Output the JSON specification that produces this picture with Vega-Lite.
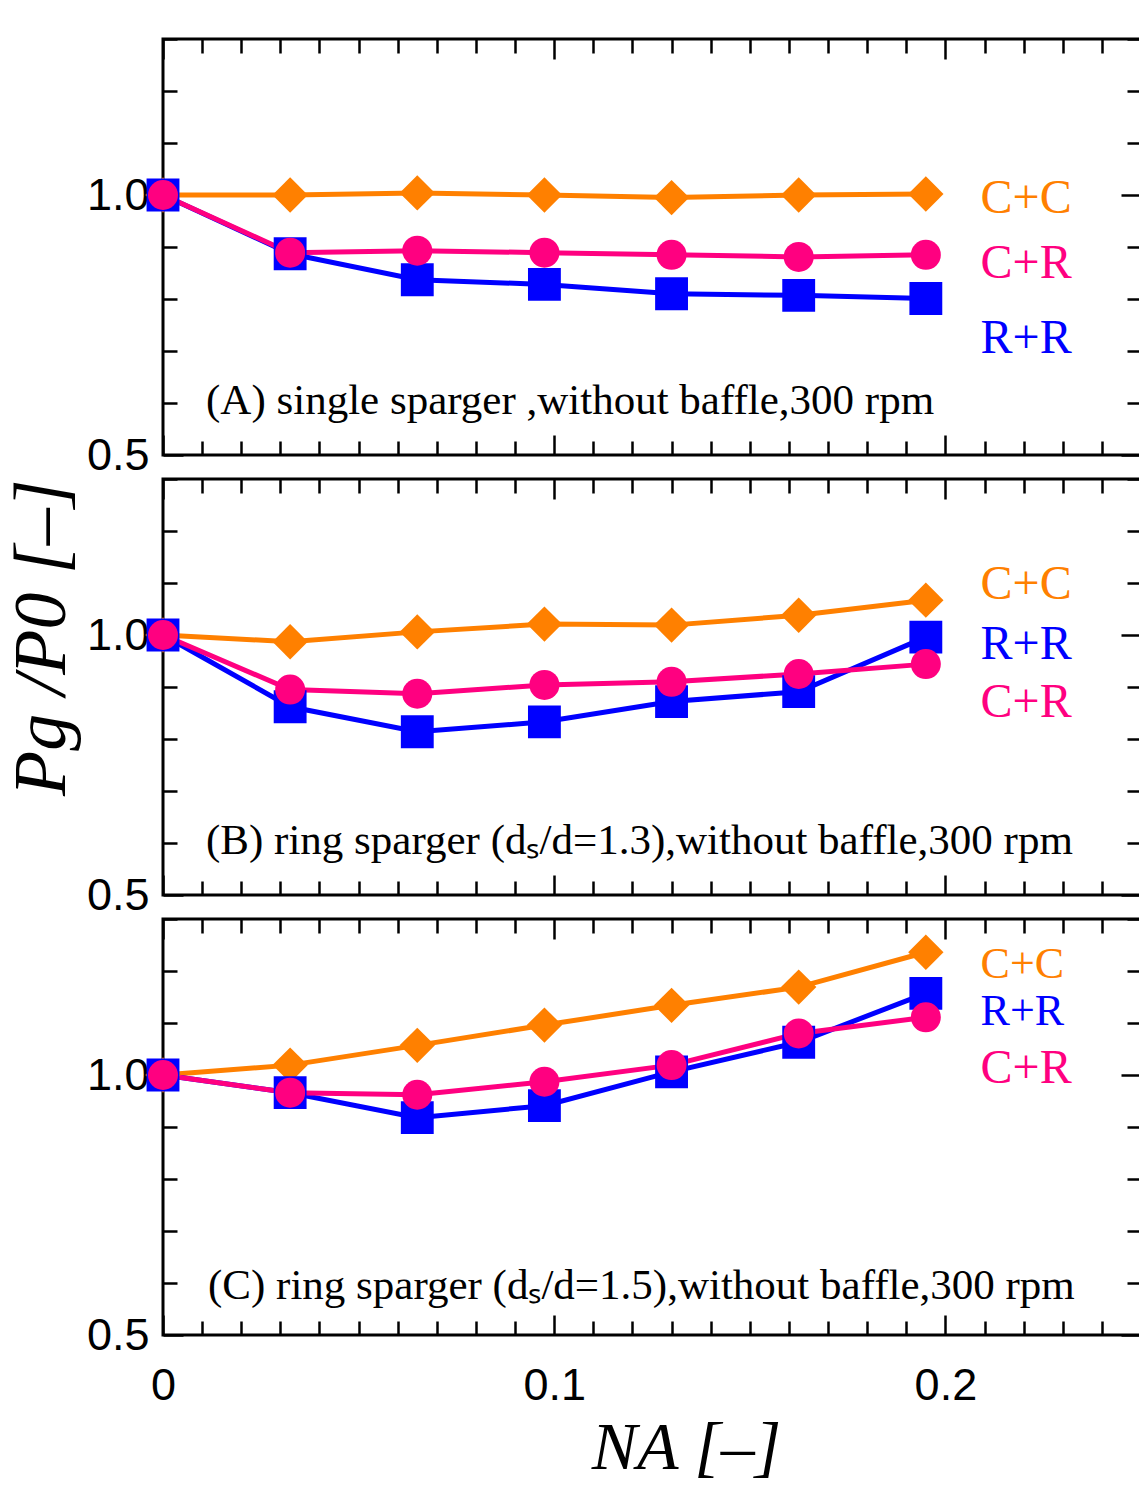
{
  "$schema": "https://vega.github.io/schema/vega-lite/v6.json",
  "padding": {"left": 3, "top": 15, "right": 0, "bottom": 0},
  "background": "white",
  "data": {"values": [
    {"panel": "A", "series": "C+C", "x": 0, "y": 1.0},
    {"panel": "A", "series": "C+C", "x": 0.0325, "y": 1.0},
    {"panel": "A", "series": "C+C", "x": 0.065, "y": 1.004},
    {"panel": "A", "series": "C+C", "x": 0.0975, "y": 1.0},
    {"panel": "A", "series": "C+C", "x": 0.13, "y": 0.995},
    {"panel": "A", "series": "C+C", "x": 0.1625, "y": 1.0},
    {"panel": "A", "series": "C+C", "x": 0.195, "y": 1.002},
    {"panel": "A", "series": "R+R", "x": 0, "y": 1.0},
    {"panel": "A", "series": "R+R", "x": 0.0325, "y": 0.887},
    {"panel": "A", "series": "R+R", "x": 0.065, "y": 0.837},
    {"panel": "A", "series": "R+R", "x": 0.0975, "y": 0.828},
    {"panel": "A", "series": "R+R", "x": 0.13, "y": 0.81},
    {"panel": "A", "series": "R+R", "x": 0.1625, "y": 0.807},
    {"panel": "A", "series": "R+R", "x": 0.195, "y": 0.801},
    {"panel": "A", "series": "C+R", "x": 0, "y": 1.0},
    {"panel": "A", "series": "C+R", "x": 0.0325, "y": 0.889},
    {"panel": "A", "series": "C+R", "x": 0.065, "y": 0.893},
    {"panel": "A", "series": "C+R", "x": 0.0975, "y": 0.889},
    {"panel": "A", "series": "C+R", "x": 0.13, "y": 0.885},
    {"panel": "A", "series": "C+R", "x": 0.1625, "y": 0.881},
    {"panel": "A", "series": "C+R", "x": 0.195, "y": 0.885},
    {"panel": "B", "series": "C+C", "x": 0, "y": 1.0},
    {"panel": "B", "series": "C+C", "x": 0.0325, "y": 0.987},
    {"panel": "B", "series": "C+C", "x": 0.065, "y": 1.006},
    {"panel": "B", "series": "C+C", "x": 0.0975, "y": 1.021},
    {"panel": "B", "series": "C+C", "x": 0.13, "y": 1.019},
    {"panel": "B", "series": "C+C", "x": 0.1625, "y": 1.038},
    {"panel": "B", "series": "C+C", "x": 0.195, "y": 1.067},
    {"panel": "B", "series": "R+R", "x": 0, "y": 1.0},
    {"panel": "B", "series": "R+R", "x": 0.0325, "y": 0.862},
    {"panel": "B", "series": "R+R", "x": 0.065, "y": 0.814},
    {"panel": "B", "series": "R+R", "x": 0.0975, "y": 0.833},
    {"panel": "B", "series": "R+R", "x": 0.13, "y": 0.872},
    {"panel": "B", "series": "R+R", "x": 0.1625, "y": 0.891},
    {"panel": "B", "series": "R+R", "x": 0.195, "y": 0.996},
    {"panel": "B", "series": "C+R", "x": 0, "y": 1.0},
    {"panel": "B", "series": "C+R", "x": 0.0325, "y": 0.895},
    {"panel": "B", "series": "C+R", "x": 0.065, "y": 0.887},
    {"panel": "B", "series": "C+R", "x": 0.0975, "y": 0.904},
    {"panel": "B", "series": "C+R", "x": 0.13, "y": 0.91},
    {"panel": "B", "series": "C+R", "x": 0.1625, "y": 0.925},
    {"panel": "B", "series": "C+R", "x": 0.195, "y": 0.944},
    {"panel": "C", "series": "C+C", "x": 0, "y": 1.0},
    {"panel": "C", "series": "C+C", "x": 0.0325, "y": 1.019},
    {"panel": "C", "series": "C+C", "x": 0.065, "y": 1.057},
    {"panel": "C", "series": "C+C", "x": 0.0975, "y": 1.096},
    {"panel": "C", "series": "C+C", "x": 0.13, "y": 1.134},
    {"panel": "C", "series": "C+C", "x": 0.1625, "y": 1.169},
    {"panel": "C", "series": "C+C", "x": 0.195, "y": 1.236},
    {"panel": "C", "series": "R+R", "x": 0, "y": 1.0},
    {"panel": "C", "series": "R+R", "x": 0.0325, "y": 0.966},
    {"panel": "C", "series": "R+R", "x": 0.065, "y": 0.918},
    {"panel": "C", "series": "R+R", "x": 0.0975, "y": 0.941},
    {"panel": "C", "series": "R+R", "x": 0.13, "y": 1.006},
    {"panel": "C", "series": "R+R", "x": 0.1625, "y": 1.063},
    {"panel": "C", "series": "R+R", "x": 0.195, "y": 1.157},
    {"panel": "C", "series": "C+R", "x": 0, "y": 1.0},
    {"panel": "C", "series": "C+R", "x": 0.0325, "y": 0.966},
    {"panel": "C", "series": "C+R", "x": 0.065, "y": 0.962},
    {"panel": "C", "series": "C+R", "x": 0.0975, "y": 0.987},
    {"panel": "C", "series": "C+R", "x": 0.13, "y": 1.019},
    {"panel": "C", "series": "C+R", "x": 0.1625, "y": 1.08},
    {"panel": "C", "series": "C+R", "x": 0.195, "y": 1.111}
  ]},
  "vconcat": [
    {
      "width": 978, "height": 416,
      "layer": [
        {
          "transform": [{"filter": "datum.panel === 'A'"}],
          "mark": {"type": "line", "strokeWidth": 5},
          "encoding": {
            "x": {"field": "x", "type": "quantitative", "scale": {"domain": [0, 0.25], "nice": false, "zero": false},
              "axis": {"orient": "bottom", "title": null, "labels": false, "values": [0,0.01,0.02,0.03,0.04,0.05,0.06,0.07,0.08,0.09,0.1,0.11,0.12,0.13,0.14,0.15,0.16,0.17,0.18,0.19,0.2,0.21,0.22,0.23,0.24,0.25],
                "tickSize": {"condition": {"test": "abs(datum.value*10 - round(datum.value*10)) < 0.001", "value": -20}, "value": -14}}},
            "y": {"field": "y", "type": "quantitative", "scale": {"domain": [0.5, 1.3], "nice": false, "zero": false},
              "axis": {"orient": "left", "title": null, "values": [0.5,0.6,0.7,0.8,0.9,1.0,1.1,1.2,1.3], "labelPadding": 34,
                "labelExpr": "abs(datum.value-0.5)<0.001 ? '0.5' : (abs(datum.value-1)<0.001 ? '1.0' : '')",
                "tickSize": {"condition": {"test": "abs(datum.value*2 - round(datum.value*2)) < 0.001", "value": -20}, "value": -14}}},
            "color": {"field": "series", "type": "nominal", "scale": {"domain": ["C+C", "R+R", "C+R"], "range": ["#FF8000", "#0000FF", "#FF0080"]}, "legend": null}
          }
        },
        {
          "transform": [{"filter": "datum.panel === 'A'"}],
          "mark": {"type": "point", "filled": true, "opacity": 1, "strokeWidth": 0},
          "encoding": {
            "x": {"field": "x", "type": "quantitative",
              "axis": {"orient": "top", "title": null, "labels": false, "values": [0,0.01,0.02,0.03,0.04,0.05,0.06,0.07,0.08,0.09,0.1,0.11,0.12,0.13,0.14,0.15,0.16,0.17,0.18,0.19,0.2,0.21,0.22,0.23,0.24,0.25],
                "tickSize": {"condition": {"test": "abs(datum.value*10 - round(datum.value*10)) < 0.001", "value": -20}, "value": -14}}},
            "y": {"field": "y", "type": "quantitative",
              "axis": {"orient": "right", "title": null, "labels": false, "values": [0.5,0.6,0.7,0.8,0.9,1.0,1.1,1.2,1.3],
                "tickSize": {"condition": {"test": "abs(datum.value*2 - round(datum.value*2)) < 0.001", "value": -20}, "value": -14}}},
            "color": {"field": "series", "type": "nominal", "legend": null},
            "shape": {"field": "series", "type": "nominal", "scale": {"domain": ["C+C", "R+R", "C+R"], "range": ["diamond", "square", "circle"]}, "legend": null},
            "size": {"field": "series", "type": "nominal", "scale": {"type": "ordinal", "domain": ["C+C", "R+R", "C+R"], "range": [1250, 1080, 900]}, "legend": null}
          }
        },
        {
          "data": {"values": [{}]},
          "mark": {"type": "text", "align": "left", "baseline": "alphabetic", "font": "Liberation Serif", "fontSize": 43, "color": "black"},
          "encoding": {"x": {"datum": 0.011, "type": "quantitative", "axis": null}, "y": {"datum": 0.579, "type": "quantitative", "axis": null}, "text": {"value": "(A) single sparger ,without baffle,300 rpm"}}
        },
        {
          "data": {"values": [{}]},
          "mark": {"type": "text", "align": "left", "baseline": "alphabetic", "font": "Liberation Serif", "fontSize": 48, "color": "#FF8000"},
          "encoding": {"x": {"datum": 0.209, "type": "quantitative", "axis": null}, "y": {"datum": 0.966, "type": "quantitative", "axis": null}, "text": {"value": "C+C"}}
        },
        {
          "data": {"values": [{}]},
          "mark": {"type": "text", "align": "left", "baseline": "alphabetic", "font": "Liberation Serif", "fontSize": 48, "color": "#FF0080"},
          "encoding": {"x": {"datum": 0.209, "type": "quantitative", "axis": null}, "y": {"datum": 0.841, "type": "quantitative", "axis": null}, "text": {"value": "C+R"}}
        },
        {
          "data": {"values": [{}]},
          "mark": {"type": "text", "align": "left", "baseline": "alphabetic", "font": "Liberation Serif", "fontSize": 48, "color": "#0000FF"},
          "encoding": {"x": {"datum": 0.209, "type": "quantitative", "axis": null}, "y": {"datum": 0.697, "type": "quantitative", "axis": null}, "text": {"value": "R+R"}}
        }
      ],
      "resolve": {"axis": {"x": "independent", "y": "independent"}}
    },
    {
      "width": 978, "height": 416,
      "layer": [
        {
          "transform": [{"filter": "datum.panel === 'B'"}],
          "mark": {"type": "line", "strokeWidth": 5},
          "encoding": {
            "x": {"field": "x", "type": "quantitative", "scale": {"domain": [0, 0.25], "nice": false, "zero": false},
              "axis": {"orient": "bottom", "title": null, "labels": false, "values": [0,0.01,0.02,0.03,0.04,0.05,0.06,0.07,0.08,0.09,0.1,0.11,0.12,0.13,0.14,0.15,0.16,0.17,0.18,0.19,0.2,0.21,0.22,0.23,0.24,0.25],
                "tickSize": {"condition": {"test": "abs(datum.value*10 - round(datum.value*10)) < 0.001", "value": -20}, "value": -14}}},
            "y": {"field": "y", "type": "quantitative", "scale": {"domain": [0.5, 1.3], "nice": false, "zero": false},
              "axis": {"orient": "left", "title": "Pg /P0 [–]", "titleFont": "Liberation Serif", "titleFontStyle": "italic", "titleFontWeight": "normal", "titleFontSize": 74, "titleColor": "black", "titlePadding": 6, "titleAnchor": "end",
                "values": [0.5,0.6,0.7,0.8,0.9,1.0,1.1,1.2,1.3], "labelPadding": 34,
                "labelExpr": "abs(datum.value-0.5)<0.001 ? '0.5' : (abs(datum.value-1)<0.001 ? '1.0' : '')",
                "tickSize": {"condition": {"test": "abs(datum.value*2 - round(datum.value*2)) < 0.001", "value": -20}, "value": -14}}},
            "color": {"field": "series", "type": "nominal", "scale": {"domain": ["C+C", "R+R", "C+R"], "range": ["#FF8000", "#0000FF", "#FF0080"]}, "legend": null}
          }
        },
        {
          "transform": [{"filter": "datum.panel === 'B'"}],
          "mark": {"type": "point", "filled": true, "opacity": 1, "strokeWidth": 0},
          "encoding": {
            "x": {"field": "x", "type": "quantitative",
              "axis": {"orient": "top", "title": null, "labels": false, "values": [0,0.01,0.02,0.03,0.04,0.05,0.06,0.07,0.08,0.09,0.1,0.11,0.12,0.13,0.14,0.15,0.16,0.17,0.18,0.19,0.2,0.21,0.22,0.23,0.24,0.25],
                "tickSize": {"condition": {"test": "abs(datum.value*10 - round(datum.value*10)) < 0.001", "value": -20}, "value": -14}}},
            "y": {"field": "y", "type": "quantitative",
              "axis": {"orient": "right", "title": null, "labels": false, "values": [0.5,0.6,0.7,0.8,0.9,1.0,1.1,1.2,1.3],
                "tickSize": {"condition": {"test": "abs(datum.value*2 - round(datum.value*2)) < 0.001", "value": -20}, "value": -14}}},
            "color": {"field": "series", "type": "nominal", "legend": null},
            "shape": {"field": "series", "type": "nominal", "scale": {"domain": ["C+C", "R+R", "C+R"], "range": ["diamond", "square", "circle"]}, "legend": null},
            "size": {"field": "series", "type": "nominal", "scale": {"type": "ordinal", "domain": ["C+C", "R+R", "C+R"], "range": [1250, 1080, 900]}, "legend": null}
          }
        },
        {
          "data": {"values": [{}]},
          "mark": {"type": "text", "align": "left", "baseline": "alphabetic", "font": "Liberation Serif", "fontSize": 43, "color": "black"},
          "encoding": {"x": {"datum": 0.011, "type": "quantitative", "axis": null}, "y": {"datum": 0.579, "type": "quantitative", "axis": null}, "text": {"value": "(B) ring sparger  (dₛ/d=1.3),without baffle,300 rpm"}}
        },
        {
          "data": {"values": [{}]},
          "mark": {"type": "text", "align": "left", "baseline": "alphabetic", "font": "Liberation Serif", "fontSize": 48, "color": "#FF8000"},
          "encoding": {"x": {"datum": 0.209, "type": "quantitative", "axis": null}, "y": {"datum": 1.069, "type": "quantitative", "axis": null}, "text": {"value": "C+C"}}
        },
        {
          "data": {"values": [{}]},
          "mark": {"type": "text", "align": "left", "baseline": "alphabetic", "font": "Liberation Serif", "fontSize": 48, "color": "#0000FF"},
          "encoding": {"x": {"datum": 0.209, "type": "quantitative", "axis": null}, "y": {"datum": 0.954, "type": "quantitative", "axis": null}, "text": {"value": "R+R"}}
        },
        {
          "data": {"values": [{}]},
          "mark": {"type": "text", "align": "left", "baseline": "alphabetic", "font": "Liberation Serif", "fontSize": 48, "color": "#FF0080"},
          "encoding": {"x": {"datum": 0.209, "type": "quantitative", "axis": null}, "y": {"datum": 0.843, "type": "quantitative", "axis": null}, "text": {"value": "C+R"}}
        }
      ],
      "resolve": {"axis": {"x": "independent", "y": "independent"}}
    },
    {
      "width": 978, "height": 416,
      "layer": [
        {
          "transform": [{"filter": "datum.panel === 'C'"}],
          "mark": {"type": "line", "strokeWidth": 5},
          "encoding": {
            "x": {"field": "x", "type": "quantitative", "scale": {"domain": [0, 0.25], "nice": false, "zero": false},
              "axis": {"orient": "bottom", "title": "NA [–]", "titleFont": "Liberation Serif", "titleFontStyle": "italic", "titleFontWeight": "normal", "titleFontSize": 68, "titleColor": "black", "titlePadding": 0, "titleX": 523,
                "values": [0,0.01,0.02,0.03,0.04,0.05,0.06,0.07,0.08,0.09,0.1,0.11,0.12,0.13,0.14,0.15,0.16,0.17,0.18,0.19,0.2,0.21,0.22,0.23,0.24,0.25],
                "labelExpr": "abs(datum.value)<0.001 ? '0' : (abs(datum.value-0.1)<0.001 ? '0.1' : (abs(datum.value-0.2)<0.001 ? '0.2' : ''))",
                "labelPadding": 48,
                "tickSize": {"condition": {"test": "abs(datum.value*10 - round(datum.value*10)) < 0.001", "value": -20}, "value": -14}}},
            "y": {"field": "y", "type": "quantitative", "scale": {"domain": [0.5, 1.3], "nice": false, "zero": false},
              "axis": {"orient": "left", "title": null, "values": [0.5,0.6,0.7,0.8,0.9,1.0,1.1,1.2,1.3], "labelPadding": 34,
                "labelExpr": "abs(datum.value-0.5)<0.001 ? '0.5' : (abs(datum.value-1)<0.001 ? '1.0' : '')",
                "tickSize": {"condition": {"test": "abs(datum.value*2 - round(datum.value*2)) < 0.001", "value": -20}, "value": -14}}},
            "color": {"field": "series", "type": "nominal", "scale": {"domain": ["C+C", "R+R", "C+R"], "range": ["#FF8000", "#0000FF", "#FF0080"]}, "legend": null}
          }
        },
        {
          "transform": [{"filter": "datum.panel === 'C'"}],
          "mark": {"type": "point", "filled": true, "opacity": 1, "strokeWidth": 0},
          "encoding": {
            "x": {"field": "x", "type": "quantitative",
              "axis": {"orient": "top", "title": null, "labels": false, "values": [0,0.01,0.02,0.03,0.04,0.05,0.06,0.07,0.08,0.09,0.1,0.11,0.12,0.13,0.14,0.15,0.16,0.17,0.18,0.19,0.2,0.21,0.22,0.23,0.24,0.25],
                "tickSize": {"condition": {"test": "abs(datum.value*10 - round(datum.value*10)) < 0.001", "value": -20}, "value": -14}}},
            "y": {"field": "y", "type": "quantitative",
              "axis": {"orient": "right", "title": null, "labels": false, "values": [0.5,0.6,0.7,0.8,0.9,1.0,1.1,1.2,1.3],
                "tickSize": {"condition": {"test": "abs(datum.value*2 - round(datum.value*2)) < 0.001", "value": -20}, "value": -14}}},
            "color": {"field": "series", "type": "nominal", "legend": null},
            "shape": {"field": "series", "type": "nominal", "scale": {"domain": ["C+C", "R+R", "C+R"], "range": ["diamond", "square", "circle"]}, "legend": null},
            "size": {"field": "series", "type": "nominal", "scale": {"type": "ordinal", "domain": ["C+C", "R+R", "C+R"], "range": [1250, 1080, 900]}, "legend": null}
          }
        },
        {
          "data": {"values": [{}]},
          "mark": {"type": "text", "align": "left", "baseline": "alphabetic", "font": "Liberation Serif", "fontSize": 43, "color": "black"},
          "encoding": {"x": {"datum": 0.0115, "type": "quantitative", "axis": null}, "y": {"datum": 0.569, "type": "quantitative", "axis": null}, "text": {"value": "(C) ring sparger  (dₛ/d=1.5),without baffle,300 rpm"}}
        },
        {
          "data": {"values": [{}]},
          "mark": {"type": "text", "align": "left", "baseline": "alphabetic", "font": "Liberation Serif", "fontSize": 44, "color": "#FF8000"},
          "encoding": {"x": {"datum": 0.209, "type": "quantitative", "axis": null}, "y": {"datum": 1.186, "type": "quantitative", "axis": null}, "text": {"value": "C+C"}}
        },
        {
          "data": {"values": [{}]},
          "mark": {"type": "text", "align": "left", "baseline": "alphabetic", "font": "Liberation Serif", "fontSize": 44, "color": "#0000FF"},
          "encoding": {"x": {"datum": 0.209, "type": "quantitative", "axis": null}, "y": {"datum": 1.096, "type": "quantitative", "axis": null}, "text": {"value": "R+R"}}
        },
        {
          "data": {"values": [{}]},
          "mark": {"type": "text", "align": "left", "baseline": "alphabetic", "font": "Liberation Serif", "fontSize": 48, "color": "#FF0080"},
          "encoding": {"x": {"datum": 0.209, "type": "quantitative", "axis": null}, "y": {"datum": 0.985, "type": "quantitative", "axis": null}, "text": {"value": "C+R"}}
        }
      ],
      "resolve": {"axis": {"x": "independent", "y": "independent"}}
    }
  ],
  "spacing": 24,
  "bounds": "flush",
  "config": {
    "view": {"stroke": "black", "strokeWidth": 3},
    "axis": {"domain": false, "grid": false, "tickColor": "black", "tickWidth": 2.5, "labelFont": "Liberation Sans", "labelFontSize": 45, "labelColor": "black", "labelFlush": false, "labelOverlap": false, "labelPadding": 12}
  }
}
